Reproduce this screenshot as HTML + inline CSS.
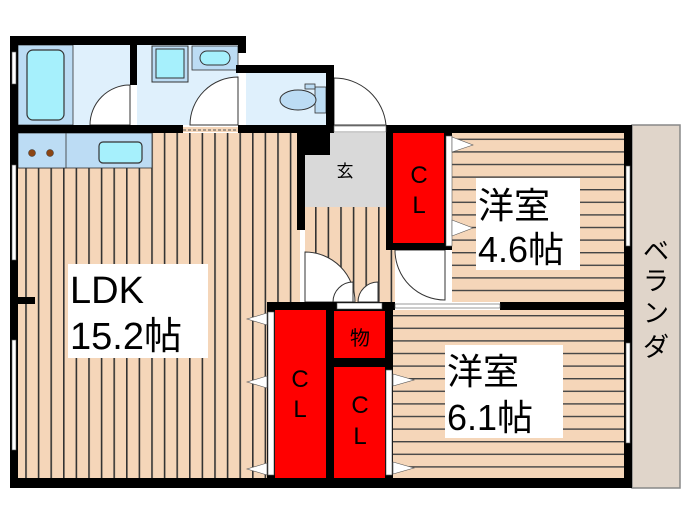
<!DOCTYPE html>
<html><head><meta charset="utf-8"><style>
html,body{margin:0;padding:0;background:#fff;width:700px;height:525px;overflow:hidden}
svg{display:block}
text{font-family:"Liberation Sans","Noto Sans CJK JP",sans-serif}
</style></head><body>
<svg width="700" height="525" viewBox="0 0 700 525" xmlns="http://www.w3.org/2000/svg">
<defs>
<pattern id="v" x="0" y="0" width="12.6" height="10" patternUnits="userSpaceOnUse">
<rect width="12.6" height="10" fill="#f5d6b9"/><rect x="0" width="1.6" height="10" fill="#333"/></pattern>
<pattern id="h" x="0" y="0" width="10" height="12.6" patternUnits="userSpaceOnUse">
<rect width="10" height="12.6" fill="#f5d6b9"/><rect y="0" width="10" height="1.4" fill="#444"/></pattern>
</defs>
<!-- balcony -->
<rect x="632" y="125" width="48" height="363" fill="#e0d5ca" stroke="#888" stroke-width="1.5"/>
<text x="656" y="260" font-size="26" text-anchor="middle">ベ</text>
<text x="656" y="290" font-size="26" text-anchor="middle">ラ</text>
<text x="656" y="322" font-size="26" text-anchor="middle">ン</text>
<text x="656" y="356" font-size="26" text-anchor="middle">ダ</text>
<!-- floors -->
<rect x="18" y="133" width="282" height="345" fill="url(#v)"/>
<rect x="305" y="207" width="90" height="95" fill="url(#v)"/>
<rect x="452" y="133" width="172" height="169" fill="url(#h)"/>
<rect x="393" y="310" width="231" height="168" fill="url(#h)"/>
<rect x="305" y="133" width="81" height="74" fill="#d9d9d9"/>
<text x="345" y="177" font-size="17" text-anchor="middle">玄</text>
<!-- wet rooms -->
<rect x="18" y="45" width="112" height="80" fill="#dff0fc"/>
<rect x="18" y="45" width="55" height="80" fill="#bcdcf4" stroke="#333" stroke-width="0.8"/>
<rect x="27" y="50" width="37" height="70" rx="6" fill="#a6f0fc" stroke="#333" stroke-width="1.2"/>
<rect x="137" y="45" width="101" height="80" fill="#dff0fc"/>
<rect x="152" y="46" width="36" height="36" fill="#bcdcf4" stroke="#333"/>
<rect x="156" y="49" width="28" height="29" fill="#a6f0fc" stroke="#333"/>
<rect x="192" y="46" width="46" height="24" fill="#bcdcf4" stroke="#333" stroke-width="0.8"/>
<rect x="200" y="51" width="30" height="14" rx="7" fill="#a6f0fc" stroke="#333"/>
<rect x="246" y="73" width="80" height="52" fill="#dff0fc"/>
<rect x="315" y="87" width="11" height="26" fill="#bcdcf4" stroke="#333" stroke-width="0.8"/>
<rect x="305" y="84" width="10" height="5" fill="#bcdcf4" stroke="#333" stroke-width="0.8"/>
<ellipse cx="298" cy="100" rx="18" ry="10" fill="#bcdcf4" stroke="#333"/>
<rect x="18" y="133" width="134" height="35" fill="#bcdcf4" stroke="#333" stroke-width="0.8"/>
<rect x="18" y="133" width="48" height="35" fill="#bcdcf4" stroke="#333" stroke-width="0.8"/>
<circle cx="32" cy="153" r="3.5" fill="#8b4513" stroke="#333" stroke-width="0.5"/>
<circle cx="50" cy="153" r="3.5" fill="#8b4513" stroke="#333" stroke-width="0.5"/>
<rect x="99" y="142" width="43" height="21" rx="4" fill="#a6f0fc" stroke="#333" stroke-width="1.2"/>
<!-- door arcs -->
<g fill="#fff" stroke="#333" stroke-width="1">
<path d="M90 125 A40 40 0 0 1 130 85 L130 125 Z"/>
<path d="M190 125 A48 48 0 0 1 238 77 L238 125 Z"/>
<path d="M334 78 A52 52 0 0 1 386 125 L334 125 Z"/>
<path d="M305 252 A50 50 0 0 1 355 302 L305 302 Z"/>
<path d="M333 302 A20 20 0 0 1 353 282 L353 302 Z"/>
<path d="M358 302 A20 20 0 0 1 378 282 L378 302 Z"/>
<path d="M395 250 A50 50 0 0 0 445 300 L445 250 Z"/>
</g>
<!-- walls -->
<g fill="#000">
<rect x="10" y="36" width="236" height="9"/>
<rect x="10" y="36" width="8" height="452"/>
<rect x="130" y="45" width="7" height="40"/>
<rect x="236" y="65" width="98" height="8"/>
<rect x="238" y="45" width="8" height="8"/>
<rect x="326" y="65" width="8" height="68"/>
<rect x="10" y="125" width="173" height="8"/>
<rect x="238" y="125" width="96" height="8"/>
<rect x="297" y="125" width="33" height="30"/>
<rect x="297" y="133" width="8" height="97"/>
<rect x="386" y="125" width="246" height="8"/>
<rect x="386" y="133" width="66" height="117"/>
<rect x="624" y="125" width="8" height="363"/>
<rect x="267" y="302" width="128" height="8"/>
<rect x="500" y="302" width="124" height="8"/>
<rect x="267" y="302" width="126" height="186"/>
<rect x="10" y="478" width="622" height="10"/>
<rect x="18" y="297" width="17" height="7"/>
</g>
<!-- white window/door strips -->
<g fill="#fff" stroke="#555" stroke-width="0.6">
<rect x="12" y="52" width="4" height="32"/>
<rect x="12" y="165" width="4" height="95"/>
<rect x="12" y="340" width="4" height="110"/>
<rect x="626" y="166" width="4" height="80"/>
<rect x="626" y="343" width="4" height="100"/>
<rect x="334" y="126" width="52" height="6"/>
<rect x="395" y="304" width="105" height="4"/>
<rect x="446" y="136" width="6" height="110"/>
<rect x="268" y="312" width="6" height="163"/>
<rect x="386" y="370" width="6" height="105"/>
<rect x="337" y="303" width="45" height="6"/>
</g>
<rect x="183" y="127" width="55" height="5" fill="#f5d6b9"/>
<line x1="183" y1="130" x2="238" y2="130" stroke="#555" stroke-dasharray="3,2"/>
<!-- closets -->
<g fill="#ff0000">
<rect x="393" y="133" width="51" height="110"/>
<rect x="275" y="310" width="51" height="168"/>
<rect x="334" y="311" width="51" height="47"/>
<rect x="334" y="367" width="51" height="111"/>
</g>
<g font-size="24" text-anchor="middle" fill="#000">
<text x="419" y="183">C</text><text x="419" y="213">L</text>
<text x="300" y="387">C</text><text x="300" y="417">L</text>
<text x="360" y="413">C</text><text x="360" y="444">L</text>
<text x="360" y="345" font-size="20">物</text>
</g>
<!-- triangles -->
<g fill="#fff" stroke="#555" stroke-width="0.6">
<polygon points="452,137 473,145 452,152"/>
<polygon points="452,220 473,228 452,236"/>
<polygon points="267,313 247,319 267,325"/>
<polygon points="267,376 247,382 267,388"/>
<polygon points="267,463 247,469 267,475"/>
<polygon points="393,374 414,380 393,386"/>
<polygon points="393,462 414,468 393,474"/>
</g>
<!-- labels -->
<rect x="68" y="264" width="140" height="94" fill="#fff"/>
<text x="70" y="303" font-size="38">LDK</text>
<text x="70" y="349" font-size="38">15.2帖</text>
<rect x="476" y="178" width="104" height="92" fill="#fff"/>
<text x="478" y="218" font-size="36">洋室</text>
<text x="478" y="262" font-size="36">4.6帖</text>
<rect x="445" y="345" width="118" height="93" fill="#fff"/>
<text x="447" y="384" font-size="36">洋室</text>
<text x="447" y="430" font-size="36">6.1帖</text>
</svg>
</body></html>
